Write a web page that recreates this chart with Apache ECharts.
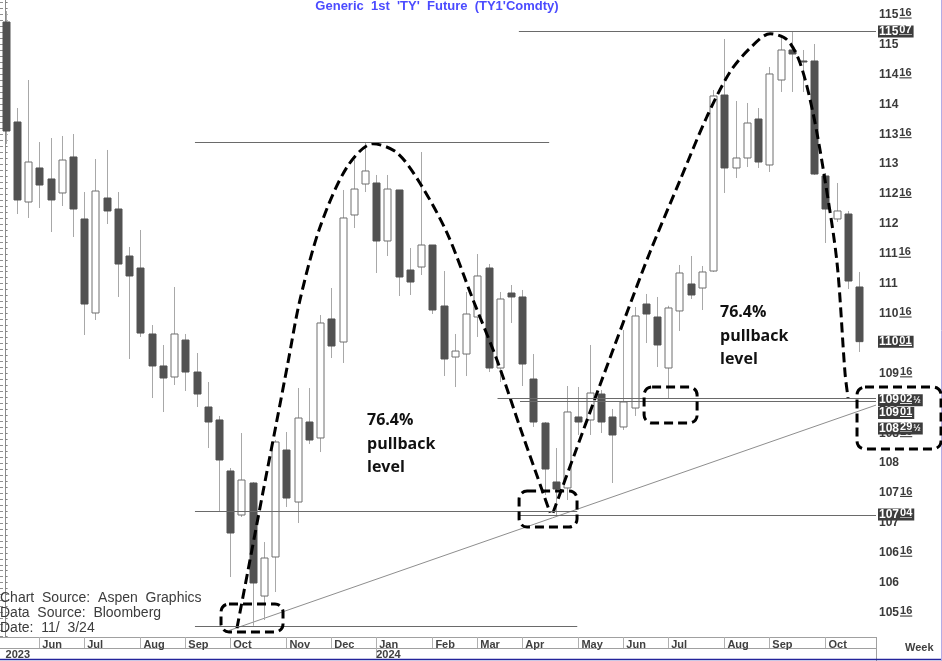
<!DOCTYPE html>
<html>
<head>
<meta charset="utf-8">
<script src="https://cdn.jsdelivr.net/npm/echarts@6/dist/echarts.min.js"></script>
<style>
html,body{margin:0;padding:0;background:#ffffff;}
#c{width:942px;height:661px;}
</style>
</head>
<body>
<div id="c"></div>
<script>
// ---------- DATA ----------
const weeks = [
 '2023-05-15','2023-05-22','2023-05-29','2023-06-05','2023-06-12','2023-06-19','2023-06-26',
 '2023-07-03','2023-07-10','2023-07-17','2023-07-24','2023-07-31','2023-08-07','2023-08-14',
 '2023-08-21','2023-08-28','2023-09-04','2023-09-11','2023-09-18','2023-09-25','2023-10-02',
 '2023-10-09','2023-10-16','2023-10-23','2023-10-30','2023-11-06','2023-11-13','2023-11-20',
 '2023-11-27','2023-12-04','2023-12-11','2023-12-18','2023-12-25','2024-01-01','2024-01-08',
 '2024-01-15','2024-01-22','2024-01-29','2024-02-05','2024-02-12','2024-02-19','2024-02-26',
 '2024-03-04','2024-03-11','2024-03-18','2024-03-25','2024-04-01','2024-04-08','2024-04-15',
 '2024-04-22','2024-04-29','2024-05-06','2024-05-13','2024-05-20','2024-05-27','2024-06-03',
 '2024-06-10','2024-06-17','2024-06-24','2024-07-01','2024-07-08','2024-07-15','2024-07-22',
 '2024-07-29','2024-08-05','2024-08-12','2024-08-19','2024-08-26','2024-09-02','2024-09-09',
 '2024-09-16','2024-09-23','2024-09-30','2024-10-07','2024-10-14','2024-10-21','2024-10-28'
];
const opens = [
 115.376,113.704,112.366,112.935,112.751,112.517,113.119,112.082,110.510,112.433,
 112.249,111.463,111.262,110.159,109.624,109.440,110.058,109.523,108.938,108.721,
 107.868,107.132,107.667,105.777,106.430,108.219,107.349,108.687,108.420,110.410,
 110.025,112.149,112.667,112.684,111.714,112.567,111.229,111.279,111.647,110.627,
 109.774,109.824,110.443,111.262,109.590,110.844,110.778,109.406,108.670,107.684,
 107.584,108.771,108.721,109.155,108.771,108.604,108.921,110.660,110.443,109.590,
 110.544,110.995,110.928,111.212,114.155,112.935,113.102,113.754,112.985,114.406,
 114.908,114.724,114.724,112.801,112.082,112.165,110.945
];
const closes = [
 113.553,112.400,113.035,112.650,112.400,113.068,112.249,110.660,112.550,112.216,
 111.329,111.129,110.175,109.624,109.423,110.159,109.523,109.155,108.687,108.052,
 106.831,107.717,105.995,106.413,108.353,107.416,108.754,108.386,110.343,109.958,
 112.099,112.583,112.885,111.714,112.583,111.112,111.028,111.647,110.560,109.741,
 109.874,110.493,111.129,109.590,110.744,110.778,109.657,108.687,107.901,107.567,
 108.855,108.687,109.172,108.687,108.470,109.022,110.460,110.493,109.975,110.594,
 111.179,110.811,111.196,114.139,112.935,113.102,113.687,113.035,114.507,114.908,
 114.841,114.707,112.834,112.249,112.216,111.045,110.031
];
const lows = [
 113.336,112.165,112.099,112.266,111.864,112.299,111.781,110.142,110.393,111.998,
 110.778,109.741,110.109,109.088,108.854,109.306,109.206,108.938,108.252,107.199,
 106.095,107.099,105.280,105.376,105.844,107.266,106.998,108.319,108.185,109.757,
 109.674,111.931,112.533,111.179,111.463,110.794,110.811,111.145,110.493,109.456,
 109.272,109.456,110.109,109.523,109.356,110.343,109.289,108.604,107.466,107.125,
 107.383,108.470,108.470,108.503,107.667,108.554,108.788,110.008,109.607,109.078,
 110.209,110.744,110.560,111.196,112.517,112.767,112.951,112.935,112.868,114.206,
 114.206,114.206,112.818,111.681,112.032,110.911,109.858
];
const highs = [
 115.560,113.938,114.406,113.369,113.436,113.470,113.503,112.533,113.085,113.236,
 112.533,111.614,111.898,110.309,109.975,110.945,110.159,109.841,109.356,108.788,
 107.918,108.503,107.684,106.680,108.386,108.520,109.256,109.256,110.476,110.928,
 112.567,113.068,113.360,112.818,112.818,112.567,111.597,113.202,111.647,111.212,
 110.159,110.861,111.496,111.329,110.861,110.978,110.895,109.824,108.687,108.252,
 109.289,109.273,109.975,109.222,108.905,110.226,110.610,110.828,110.778,110.630,
 111.313,111.463,111.296,114.239,115.092,114.055,114.022,113.938,114.624,115.109,
 115.219,114.908,115.008,112.851,112.684,112.216,111.196
];
// y-axis tick labels (price, 16/32 steps)
const yTickLabels = [105.5,106,106.5,107,107.5,108,108.5,109,109.5,110,110.5,
                     111,111.5,112,112.5,113,113.5,114,114.5,115,115.5];
// horizontal levels: price, first week index, last week index
const levelPrices = [113.36, 107.19, 105.28, 115.219, 107.125, 109.078, 109.031];
const levelFrom   = [16.86, 16.86, 16.86, 45.7, 45.7, 43.8, 45.8];
const levelTo     = [48.4, 50.9, 50.9, 77.5, 77.5, 77.5, 77.5];
// trend line (week index, price)
const trendLine = [[19.9, 105.20], [77.5, 108.97]];
// highlighted price tags on the right scale
const tagPrices = [115.219, 110.031, 109.078, 109.031, 108.922, 107.125];
const tagWhole  = ['115', '110', '109', '109', '108', '107'];
const tagFrac   = ['07', '01', '02', '01', '29', '04'];
const tagHalf   = [false, false, true, false, true, false];
// hand-drawn arcs (week index, price)
const arcFirst = [[20.60,105.24],[21.76,106.38],[22.92,107.52],[24.08,108.64],[25.15,109.69],
  [26.21,110.73],[28.00,111.95],[30.40,112.95],[32.71,113.34],[34.85,113.19],[36.90,112.68],
  [39.30,111.85],[41.62,110.73],[43.76,109.72],[45.80,108.60],[48.48,107.17]];
const arcSecond = [[48.74,107.17],[50.70,108.17],[52.93,109.31],[55.15,110.43],[57.38,111.53],
  [60.05,112.73],[62.46,113.80],[64.50,114.54],[66.29,114.94],[68.07,115.18],[69.58,115.08],
  [70.74,114.69],[71.90,113.85],[72.96,112.73],[74.03,111.35],[74.74,109.51],[75.01,109.09]];
// dashed boxes: [week from, price top, week to, price bottom]
const boxes = [[19.18,105.644,24.70,105.176],[45.72,107.533,50.88,106.931],
               [56.85,109.272,61.57,108.670],[75.81,109.272,83.29,108.236]];

// ---------- CHART ----------
const FONT = "'Liberation Sans', Arial, sans-serif";
const Y_MIN = 105.092, Y_MAX = 115.744;
const MONTHS = ['Jan','Feb','Mar','Apr','May','Jun','Jul','Aug','Sep','Oct','Nov','Dec'];
const cats = weeks.concat(['']);
const isMonthStart = i => i > 0 && i < weeks.length && weeks[i].slice(5,7) !== weeks[i-1].slice(5,7);
const isYearStart = i => i < weeks.length && (i === 0 || weeks[i].slice(0,4) !== weeks[i-1].slice(0,4));
const isYearTick = i => i > 0 && isYearStart(i);
const minorTicks = [];
for (let k = 1051; k <= 1157; k++) minorTicks.push(k / 10);

// underline images used as token backgrounds
function underlineImg(color) {
  const cv = document.createElement('canvas');
  cv.width = 8; cv.height = 10;
  const ctx = cv.getContext('2d');
  ctx.fillStyle = color;
  ctx.fillRect(0, 9, 8, 1);
  return cv;
}
const ulDark = underlineImg('#3a3a3a');
const ulWhite = underlineImg('#ffffff');

function yFmt(v) {
  const i = Math.floor(v + 1e-6);
  return Math.abs(v - i - 0.5) < 1e-6 ? '{a|' + i + '}{g|}{b|16}' : '{a|' + i + '}';
}

const candleData = weeks.map((w, i) => [i, opens[i], closes[i], lows[i], highs[i]]);

function renderCandle(params, api) {
  const x = api.value(0);
  const o = api.value(1), c = api.value(2), l = api.value(3), h = api.value(4);
  const pO = api.coord([x, o]), pC = api.coord([x, c]);
  const pL = api.coord([x, l]), pH = api.coord([x, h]);
  const w = Math.round(api.size([1, 0])[0] * 0.6);
  const xc = Math.round(pO[0]) + 0.5;
  const top = Math.min(pO[1], pC[1]), bot = Math.max(pO[1], pC[1]);
  const up = c > o;
  return {
    type: 'group',
    children: [
      {type: 'line', shape: {x1: xc, y1: pH[1], x2: xc, y2: pL[1]},
       style: {stroke: '#a8a8a8', lineWidth: 1}},
      {type: 'rect', shape: {x: xc - w / 2, y: top, width: w, height: Math.max(bot - top, 1)},
       style: {fill: up ? '#ffffff' : '#525252', stroke: up ? '#6e6e6e' : '#525252', lineWidth: 1}}
    ]
  };
}

const chart = echarts.init(document.getElementById('c'), null, {renderer: 'canvas'});

const arcStyle = {color: '#000000', width: 3, type: [10, 5]};

chart.setOption({
  animation: false,
  backgroundColor: '#ffffff',
  grid: {left: 0, right: 66, top: 0, bottom: 24},
  xAxis: [
    {type: 'value', min: -0.5, max: weeks.length + 0.5, show: false},
    {type: 'category', data: cats, position: 'bottom', boundaryGap: true,
     axisLine: {show: true, lineStyle: {color: '#a0a0a0', width: 1}},
     axisTick: {show: true, alignWithLabel: true, interval: i => isMonthStart(i), length: 11,
                lineStyle: {color: '#b0b0b0'}},
     axisLabel: {show: true, interval: i => isMonthStart(i),
                 formatter: v => v ? MONTHS[+v.slice(5, 7) - 1] : '',
                 align: 'left', padding: [0, 0, 0, 3], margin: 2,
                 fontFamily: FONT, fontSize: 11, fontWeight: 'bold', color: '#404040'},
     splitLine: {show: false}},
    {type: 'category', data: cats, position: 'bottom', offset: 11, boundaryGap: true,
     axisLine: {show: true, lineStyle: {color: '#a0a0a0', width: 1}},
     axisTick: {show: true, alignWithLabel: true, interval: i => isYearTick(i), length: 10,
                lineStyle: {color: '#b0b0b0'}},
     axisLabel: {show: true, interval: i => isYearStart(i),
                 formatter: v => v ? v.slice(0, 4) : '',
                 align: 'left', padding: [0, 0, 0, 0], margin: 1,
                 fontFamily: FONT, fontSize: 11, fontWeight: 'bold', color: '#404040'},
     splitLine: {show: false}}
  ],
  yAxis: [
    {type: 'value', position: 'right', min: Y_MIN, max: Y_MAX,
     axisLine: {show: true, lineStyle: {color: '#8c8c8c'}},
     axisTick: {show: true, customValues: minorTicks, length: 2, lineStyle: {color: '#808080'}},
     axisLabel: {show: true, customValues: yTickLabels, formatter: yFmt, margin: 3,
       rich: {
         a: {fontFamily: FONT, fontSize: 12, fontWeight: 'bold', color: '#3a3a3a', lineHeight: 14},
         g: {width: 1},
         b: {fontFamily: FONT, fontSize: 11, fontWeight: 'bold', color: '#3a3a3a',
             verticalAlign: 'top', lineHeight: 11, height: 11,
             backgroundColor: {image: ulDark}}
       }},
     splitLine: {show: false}},
    {type: 'value', position: 'left', min: Y_MIN, max: Y_MAX,
     axisLine: {show: false},
     axisTick: {show: true, inside: true, customValues: minorTicks, length: 3,
                lineStyle: {color: '#909090'}},
     axisLabel: {show: false}, splitLine: {show: false}}
  ],
  series: [
    {type: 'line', name: 'trend', xAxisIndex: 0, yAxisIndex: 0, z: 1,
     data: trendLine, symbol: 'none', silent: true,
     lineStyle: {color: '#8e8e8e', width: 1},
     markLine: {
       symbol: ['none', 'none'], silent: true, animation: false,
       label: {show: false},
       lineStyle: {color: '#6a6a6a', width: 1, type: 'solid'},
       emphasis: {disabled: true},
       data: levelPrices.map((p, k) => [{coord: [levelFrom[k], p]}, {coord: [levelTo[k], p]}])
     }},
    {type: 'custom', name: 'TY1', xAxisIndex: 0, yAxisIndex: 0, z: 2,
     renderItem: renderCandle, data: candleData,
     encode: {x: 0, y: [1, 2, 3, 4]}, silent: true},
    {type: 'line', name: 'arc1', xAxisIndex: 0, yAxisIndex: 0, z: 3, data: arcFirst,
     smooth: 0.3, symbol: 'none', silent: true, lineStyle: arcStyle},
    {type: 'line', name: 'arc2', xAxisIndex: 0, yAxisIndex: 0, z: 3, data: arcSecond,
     smooth: 0.3, symbol: 'none', silent: true, lineStyle: arcStyle}
  ]
});

// ---------- ANNOTATIONS ----------
const toPx = (x, v) => chart.convertToPixel({seriesIndex: 1}, [x, v]);
const rightX = toPx(weeks.length + 0.5, Y_MIN)[0];
const g = [];

boxes.forEach(b => {
  const p1 = toPx(b[0], b[1]), p2 = toPx(b[2], b[3]);
  g.push({type: 'rect', z: 50,
    shape: {x: p1[0], y: p1[1], width: p2[0] - p1[0], height: p2[1] - p1[1], r: 8},
    style: {fill: 'none', stroke: '#000000', lineWidth: 3, lineDash: [9, 5]}});
});

const tagShift = [0, 0, 1.5, 11.5, 20.5, -1];
tagPrices.forEach((p, k) => {
  const y = toPx(0, p)[1] + tagShift[k];
  let txt = '{a|' + tagWhole[k] + '}{g|}{b|' + tagFrac[k] + '}';
  if (tagHalf[k]) txt += '{c|½}';
  g.push({type: 'text', z: 60,
    style: {text: txt, x: rightX + 2, y: y, verticalAlign: 'middle', align: 'left',
      backgroundColor: '#3c3c3c', padding: [0, 2, 0, 1],
      rich: {
        a: {fill: '#ffffff', fontFamily: FONT, fontSize: 12, fontWeight: 'bold', lineHeight: 12},
        g: {width: 1},
        b: {fill: '#ffffff', fontFamily: FONT, fontSize: 11, fontWeight: 'bold', verticalAlign: 'top',
            lineHeight: 10, height: 10, backgroundColor: {image: ulWhite}},
        c: {fill: '#ffffff', fontFamily: FONT, fontSize: 9, fontWeight: 'bold', padding: [0, 0, 0, 1]}
      }}});
});

const noteFont = "bold 16px 'Open Sans', sans-serif";
[[367, 409], [720, 301]].forEach(pt => {
  g.push({type: 'text', z: 40,
    style: {text: '76.4%\npullback\nlevel', x: pt[0], y: pt[1], font: noteFont,
            fill: '#111111', lineHeight: 23.5, align: 'left', verticalAlign: 'top'}});
});

g.push({type: 'text', z: 40, style: {
  text: "Generic  1st  'TY'  Future  (TY1'Comdty)", x: 437, y: 6,
  align: 'center', verticalAlign: 'middle', font: "bold 13px 'Liberation Sans', Arial, sans-serif",
  fill: '#4b4bff'}});

['Chart  Source:  Aspen  Graphics', 'Data  Source:  Bloomberg', 'Date:  11/  3/24'].forEach((t, k) => {
  g.push({type: 'text', z: 40, style: {
    text: t, x: 0, y: 591 + k * 15, align: 'left', verticalAlign: 'top',
    font: "14px 'Liberation Sans', Arial, sans-serif", fill: '#3c3c3c'}});
});

g.push({type: 'text', z: 40, style: {
  text: 'Week', x: 905, y: 648, align: 'left', verticalAlign: 'middle',
  font: "bold 11px 'Liberation Sans', Arial, sans-serif", fill: '#404040'}});

g.push({type: 'line', z: 40, shape: {x1: Math.round(rightX) + 0.5, y1: 637, x2: Math.round(rightX) + 0.5, y2: 661},
  style: {stroke: '#a0a0a0', lineWidth: 1}});
g.push({type: 'line', z: 40, shape: {x1: 0, y1: 659.5, x2: 942, y2: 659.5},
  style: {stroke: '#23239a', lineWidth: 1.5}});
g.push({type: 'line', z: 40, shape: {x1: 941.5, y1: 0, x2: 941.5, y2: 661},
  style: {stroke: '#b4ace6', lineWidth: 1}});

chart.setOption({graphic: g});
</script>
</body>
</html>
